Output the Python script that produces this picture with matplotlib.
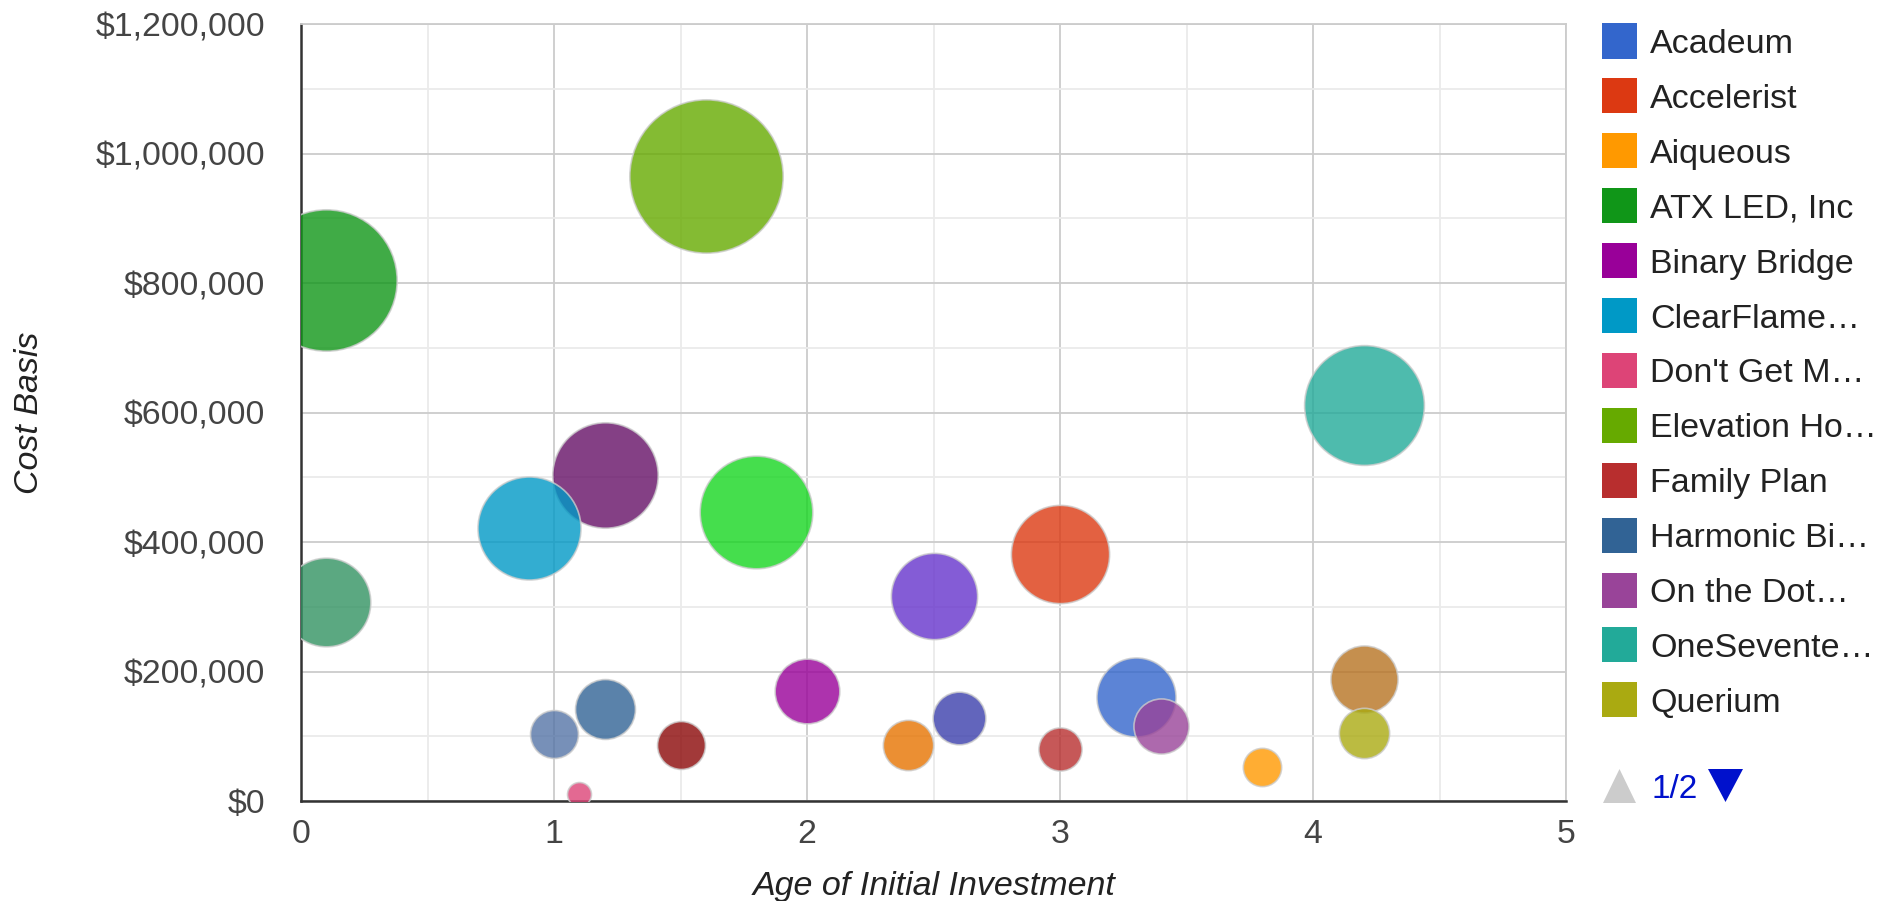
import matplotlib
matplotlib.use("Agg")
import matplotlib.pyplot as plt
from matplotlib.patches import Rectangle, Polygon
from matplotlib.ticker import FuncFormatter, MultipleLocator

# ---------------- data ----------------
companies = ["Acadeum", "Accelerist", "Aiqueous", "ATX LED, Inc", "Binary Bridge",
             "ClearFlame…", "Don't Get M…", "Elevation Ho…", "Family Plan", "Harmonic Bi…",
             "On the Dot…", "OneSevente…", "Querium",
             "Company 14", "Company 15", "Company 16", "Company 17", "Company 18",
             "Company 19", "Company 20", "Company 21", "Company 22"]
age = [3.3, 3.0, 3.8, 0.1, 2.0, 0.9, 1.1, 1.6, 3.0, 1.2, 3.4, 4.2, 4.2,
       2.5, 2.4, 1.5, 1.2, 0.1, 1.0, 2.6, 4.2, 1.8]
cost_basis = [161000, 381000, 52000, 805000, 170000, 421000, 11000, 965000, 81000, 142000,
              116000, 612000, 105000,
              316000, 87000, 87000, 503000, 307000, 104000, 128000, 189000, 446000]
bubble_size = [33, 41, 16, 59, 27, 43, 10, 64, 18, 25, 23, 50, 21,
               36, 21, 20, 44, 37, 20, 22, 28, 47]
colors = ["#3366cc", "#dc3912", "#ff9900", "#109618", "#990099", "#0099c6", "#dd4477",
          "#66aa00", "#b82e2e", "#316395", "#994499", "#22aa99", "#aaaa11",
          "#6633cc", "#e67300", "#8b0707", "#651067", "#329262", "#5574a6", "#3b3eac",
          "#b77322", "#16d620"]
legend_page_size = 13
x_title = "Age of Initial Investment"
y_title = "Cost Basis"
pager_text = "1/2"

# ---------------- figure ----------------
W, H = 1879, 901
plt.rcParams['font.family'] = ['Liberation Sans', 'DejaVu Sans']
fig = plt.figure(figsize=(W / 100, H / 100), dpi=100)
L, R, T, B = 301, 1566, 24, 801
ax = fig.add_axes([L / W, 1 - B / H, (R - L) / W, (B - T) / H])

ax.set_xlim(0, 5)
ax.set_ylim(0, 1200000)
ax.xaxis.set_major_locator(MultipleLocator(1))
ax.xaxis.set_minor_locator(MultipleLocator(0.5))
ax.yaxis.set_major_locator(MultipleLocator(200000))
ax.yaxis.set_minor_locator(MultipleLocator(100000))
ax.yaxis.set_major_formatter(FuncFormatter(lambda v, p: "${:,.0f}".format(v)))
ax.xaxis.set_major_formatter(FuncFormatter(lambda v, p: "{:g}".format(v)))
ax.set_axisbelow(True)
ax.grid(which='major', color='#cccccc', lw=1.3)
ax.grid(which='minor', color='#ebebeb', lw=1.3)
ax.tick_params(which='both', length=0)
ax.tick_params(axis='y', pad=26, labelsize=24.4, labelcolor='#444444')
ax.tick_params(axis='x', pad=13, labelsize=24.4, labelcolor='#444444')
for s in ('top', 'right'):
    ax.spines[s].set_color('#cccccc')
    ax.spines[s].set_linewidth(1.3)
for s in ('left', 'bottom'):
    ax.spines[s].set_color('#333333')
    ax.spines[s].set_linewidth(1.8)

# bubbles: larger drawn first
order = sorted(range(len(age)), key=lambda i: -bubble_size[i])
for z, i in enumerate(order):
    r_px = bubble_size[i] * 1.198
    d_pt = 2 * r_px * 0.72
    ax.scatter([age[i]], [cost_basis[i]], s=d_pt ** 2, color=colors[i], alpha=0.8,
               edgecolors='#cccccc', linewidths=1.2, zorder=3 + z * 0.01)

fig.text(934 / W, 1 - 887 / H, x_title, ha='center', va='center', fontsize=24.5,
         style='italic', color='#222222')
fig.text(30 / W, 1 - 413 / H, y_title, ha='center', va='center', fontsize=24.5,
         style='italic', color='#222222', rotation=90)

# legend (page 1)
def fx(x):
    return x / W

def fy(y):
    return 1 - y / H

sq = 35
row0, dy = 41, 54.9
for k in range(legend_page_size):
    cy = row0 + k * dy
    fig.patches.append(Rectangle((fx(1602), fy(cy + sq / 2)), sq / W, sq / H,
                                 transform=fig.transFigure, figure=fig,
                                 facecolor=colors[k], edgecolor='none'))
    fig.text(fx(1650), fy(cy), companies[k], ha='left', va='center_baseline',
             fontsize=24.5, color='#222222')

# pager
py = 786
fig.patches.append(Polygon([(fx(1603), fy(py + 17)), (fx(1636), fy(py + 17)), (fx(1619.5), fy(py - 17))],
                           closed=True, transform=fig.transFigure, figure=fig,
                           facecolor='#cccccc', edgecolor='none'))
fig.text(fx(1651), fy(py), pager_text, ha='left', va='center_baseline', fontsize=24,
         color='#0011cc')
fig.patches.append(Polygon([(fx(1708), fy(py - 17)), (fx(1743), fy(py - 17)), (fx(1725.5), fy(py + 16))],
                           closed=True, transform=fig.transFigure, figure=fig,
                           facecolor='#0011cc', edgecolor='none'))

fig.savefig("out.png", dpi=100, facecolor='white')
